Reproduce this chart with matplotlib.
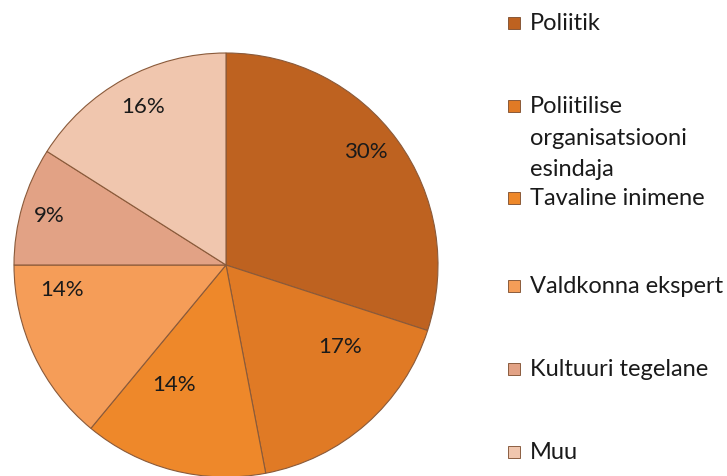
import matplotlib
matplotlib.use("Agg")
import matplotlib.pyplot as plt
from matplotlib.patches import Rectangle

categories = ["Poliitik", "Poliitilise\norganisatsiooni\nesindaja", "Tavaline inimene",
              "Valdkonna ekspert", "Kultuuri tegelane", "Muu"]
values = [30, 17, 14, 14, 9, 16]
colors = ["#BE6220", "#E07A25", "#EE882A", "#F59D58", "#E2A285", "#F0C6AE"]

# label positions (axes fraction) for percentage texts
label_pos = [(0.830, 0.770), (0.768, 0.310), (0.378, 0.220), (0.113, 0.443), (0.083, 0.617), (0.305, 0.875)]
# legend row y positions (figure pixels from top)
legend_y = [24, 107, 199, 287, 370, 453]

W, H = 727, 477
fig = plt.figure(figsize=(W / 100, H / 100), dpi=100)
plt.rcParams['font.family'] = ['Lato', 'DejaVu Sans']

cx, cy, R = 226, 266, 212
ax = fig.add_axes([(cx - R) / W, (H - cy - R) / H, 2 * R / W, 2 * R / H])
wedges, _ = ax.pie(values, colors=colors, startangle=90, counterclock=False,
                   wedgeprops=dict(edgecolor="#8a5a3a", linewidth=0.8))
ax.set_xlim(-1, 1)
ax.set_ylim(-1, 1)
ax.set_aspect("equal")
ax.axis("off")

for v, (x, y) in zip(values, label_pos):
    ax.text(x, y, f"{v}%", transform=ax.transAxes, ha="center", va="center",
            fontsize=16, color="#1a1a1a")

for cat, col, y in zip(categories, colors, legend_y):
    fy = 1 - y / H
    fig.patches.append(Rectangle((508 / W, fy - 6 / H), 12 / W, 12 / H, transform=fig.transFigure,
                                 facecolor=col, edgecolor="#7a4a2a", linewidth=0.6))
    fig.text(530 / W, fy + 11 / H, cat, ha="left", va="top", fontsize=17,
             color="#1a1a1a", linespacing=1.62)

fig.savefig("out.png", dpi=100)
